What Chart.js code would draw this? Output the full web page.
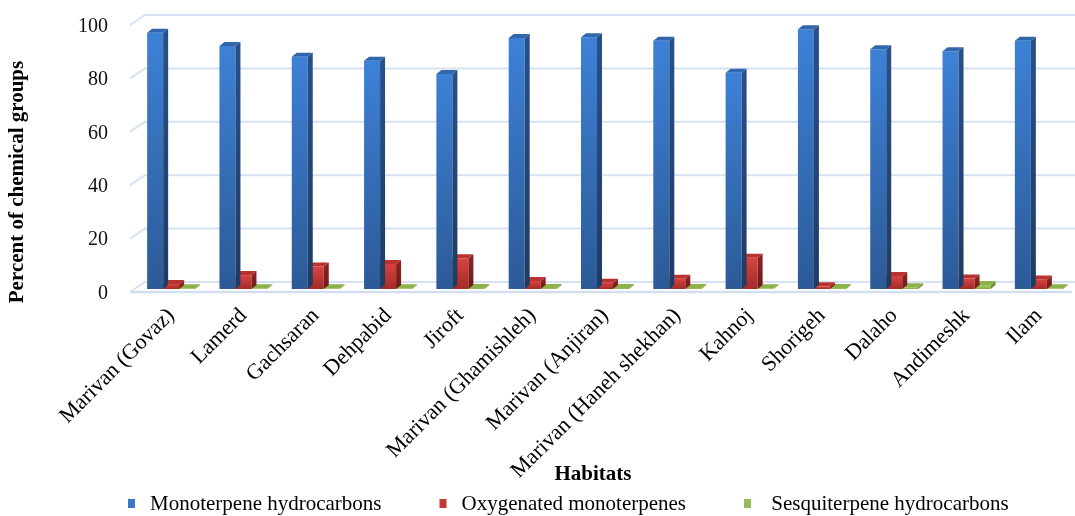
<!DOCTYPE html>
<html>
<head>
  <title>Chemical groups by habitat</title>
  <style>
    body {
      margin: 0;
      background: #ffffff;
    }
    .wrap {
      width: 1075px;
      height: 516px;
    }
  </style>
</head>
<body>
  <div class="wrap">
    <canvas id="chart" width="1075" height="516"></canvas>
  </div>

  <script src="https://cdn.jsdelivr.net/npm/chart.js"></script>
  <script>
    const habitats = [
      'Marivan (Govaz)', 'Lamerd', 'Gachsaran', 'Dehpabid', 'Jiroft',
      'Marivan (Ghamishleh)', 'Marivan (Anjiran)', 'Marivan (Haneh shekhan)',
      'Kahnoj', 'Shorigeh', 'Dalaho', 'Andimeshk', 'Ilam'
    ];
    const seriesNames = ['Monoterpene hydrocarbons', 'Oxygenated monoterpenes', ' Sesquiterpene hydrocarbons'];
    const monoterpeneHydrocarbons = [96, 91, 87, 85.5, 80.5, 94, 94.3, 93, 81, 97.3, 89.8, 89, 93];
    const oxygenatedMonoterpenes = [1.9, 5.2, 8.4, 9.4, 11.5, 3, 2.3, 3.8, 11.7, 1, 4.9, 3.9, 3.6];
    const sesquiterpeneHydrocarbons = [0.3, 0.3, 0.3, 0.3, 0.4, 0.4, 0.4, 0.4, 0.3, 0.4, 0.7, 1.5, 0.3];
    const yTicks = [0, 20, 40, 60, 80, 100];

    const serif = "'Liberation Serif', 'Times New Roman', serif";
    // depth offset of the extruded columns
    const DX = 5, DY = 4;

    const faces = [
      { front: ['#3d81d6', '#2c5a97'], side: ['#27508a', '#1f3b62'], top: '#3166ab', key: '#3a78c9' },
      { front: ['#d84340', '#a32b28'], side: ['#8a2321', '#6e1a18'], top: '#b93230', key: '#c13a36' },
      { front: ['#a7c964', '#8aac48'], side: ['#6f8d33', '#5f7b2a'], top: '#8db24a', key: '#9bbb59' }
    ];

    function frontFill(i) {
      return ctx => {
        const y = ctx.chart.scales.y;
        if (!y || typeof ctx.raw !== 'number') return faces[i].front[0];
        const top = y.getPixelForValue(ctx.raw);
        const bottom = y.getPixelForValue(0);
        if (!Number.isFinite(top) || !Number.isFinite(bottom)) return faces[i].front[0];
        const g = ctx.chart.ctx.createLinearGradient(0, top, 0, bottom + 0.01);
        g.addColorStop(0, faces[i].front[0]);
        g.addColorStop(1, faces[i].front[1]);
        return g;
      };
    }

    function poly(c, pts, fill) {
      c.beginPath();
      c.moveTo(pts[0][0], pts[0][1]);
      for (let k = 1; k < pts.length; k++) c.lineTo(pts[k][0], pts[k][1]);
      c.closePath();
      c.fillStyle = fill;
      c.fill();
    }

    const depthBars = {
      id: 'depthBars',
      beforeDatasetsDraw(chart) {
        const c = chart.ctx;
        const area = chart.chartArea;
        const ys = chart.scales.y;
        c.save();
        c.strokeStyle = '#d6e1f3';
        c.lineWidth = 2;
        yTicks.forEach(v => {
          const py = ys.getPixelForValue(v);
          c.beginPath();
          c.moveTo(area.left - 5, py + 3);
          c.lineTo(area.left + 10, py - 7);
          c.lineTo(chart.width, py - 7);
          c.stroke();
        });
        // front edge of the floor
        const p0 = ys.getPixelForValue(0);
        c.strokeStyle = '#d3dff1';
        c.lineWidth = 2.5;
        c.beginPath();
        c.moveTo(area.left - 5, p0 + 3);
        c.lineTo(area.right - 3, p0 + 3);
        c.stroke();
        c.restore();
      },
      afterDatasetDraw(chart, args) {
        const c = chart.ctx;
        const f = faces[args.index];
        c.save();
        args.meta.data.forEach(bar => {
          const { x, y, base, width } = bar.getProps(['x', 'y', 'base', 'width'], true);
          const l = x - width / 2, r = x + width / 2;
          const g = c.createLinearGradient(0, y, 0, base + 0.01);
          g.addColorStop(0, f.side[0]);
          g.addColorStop(1, f.side[1]);
          poly(c, [[r, y], [r + DX, y - DY], [r + DX, base - DY], [r, base]], g);
          poly(c, [[l, y], [r, y], [r + DX, y - DY], [l + DX, y - DY]], f.top);
        });
        c.restore();
      },
      afterDraw(chart) {
        const c = chart.ctx;
        c.save();
        c.fillStyle = '#000';
        c.textAlign = 'center';
        c.textBaseline = 'middle';
        c.font = 'bold 21px ' + serif;

        // y axis title
        c.save();
        c.translate(18, 182);
        c.rotate(-Math.PI / 2);
        c.fillText('Percent of chemical groups', 0, 0);
        c.restore();

        // x axis title
        c.fillText('Habitats', 593, 475);

        // legend row
        c.font = '21px ' + serif;
        c.textAlign = 'left';
        let lx = 128;
        const ly = 504;
        chart.data.datasets.forEach((ds, i) => {
          c.fillStyle = faces[i].key;
          c.fillRect(lx, ly - 5, 7, 9);
          c.fillStyle = '#000';
          c.fillText(ds.label, lx + 22, ly);
          lx += 22 + c.measureText(ds.label).width + 58;
        });
        c.restore();
      }
    };

    const series = [monoterpeneHydrocarbons, oxygenatedMonoterpenes, sesquiterpeneHydrocarbons];

    new Chart(document.getElementById('chart'), {
      type: 'bar',
      data: {
        labels: habitats,
        datasets: series.map((values, i) => ({
          label: seriesNames[i],
          data: values,
          backgroundColor: frontFill(i),
          borderWidth: 0,
          categoryPercentage: 0.664,
          barPercentage: 1
        }))
      },
      options: {
        responsive: false,
        devicePixelRatio: 1,
        animation: false,
        layout: { padding: { top: 22, right: 0, left: 0, bottom: 0 } },
        plugins: {
          legend: { display: false },
          tooltip: { enabled: false }
        },
        scales: {
          x: {
            grid: { display: false },
            border: { display: false },
            ticks: {
              autoSkip: false,
              maxRotation: 45,
              minRotation: 45,
              padding: 6,
              color: '#000',
              font: { family: serif, size: 22 }
            },
            afterFit(scale) { scale.height = 227; }
          },
          y: {
            min: 0,
            max: 100,
            grid: { display: false },
            border: { display: false },
            ticks: {
              stepSize: 20,
              padding: 19,
              labelOffset: 4.5,
              color: '#111',
              font: { family: serif, size: 20 }
            },
            afterFit(scale) {
              scale.width = 135;
              scale.paddingTop = 0;
              scale.paddingBottom = 0;
            }
          }
        }
      },
      plugins: [depthBars]
    });
  </script>
</body>
</html>
